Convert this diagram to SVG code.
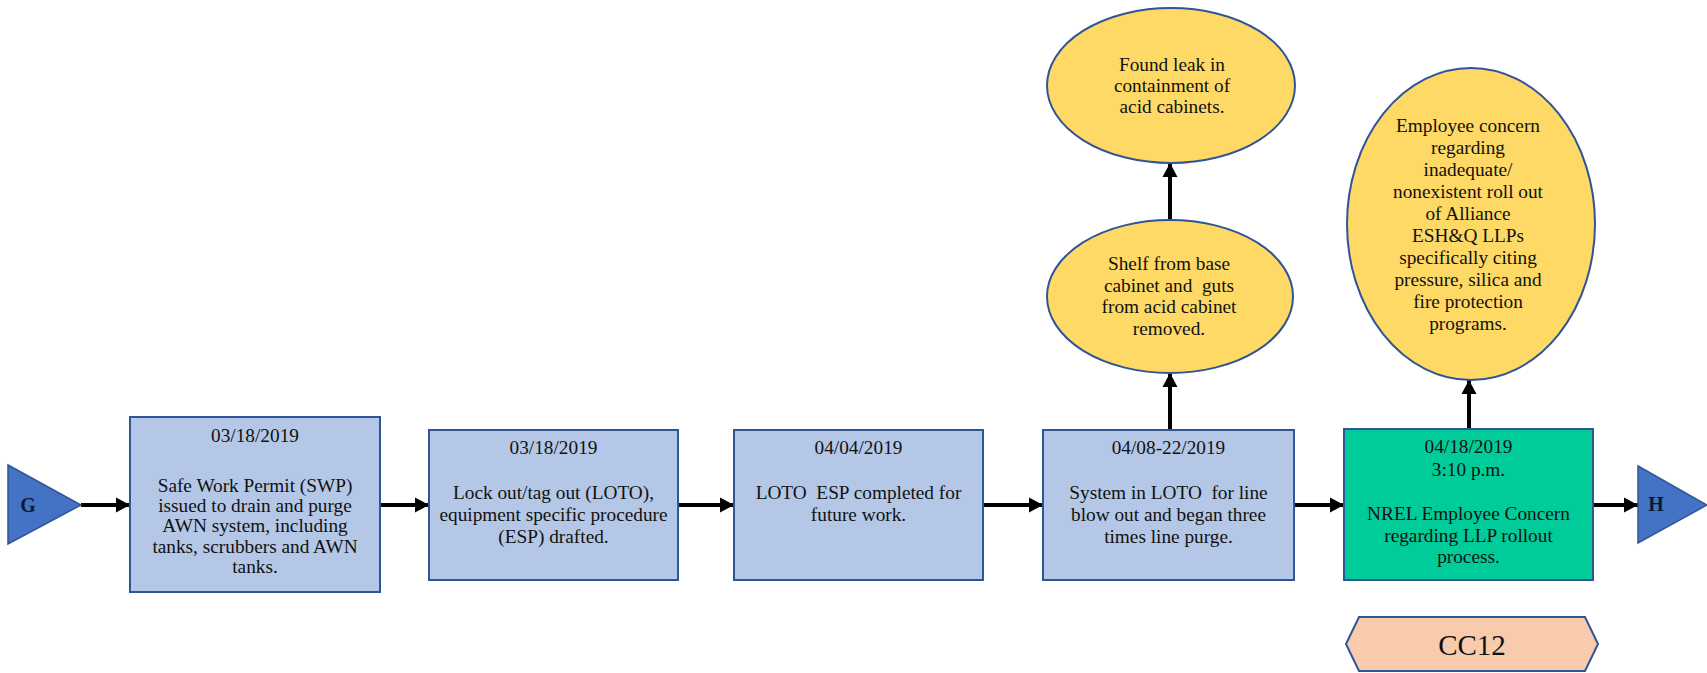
<svg xmlns="http://www.w3.org/2000/svg" width="1707" height="673" viewBox="0 0 1707 673">
  <defs>
    <marker id="arrow" markerUnits="userSpaceOnUse" markerWidth="15" markerHeight="17" refX="14" refY="8.5" orient="auto">
      <path d="M0,1 L14,8.5 L0,16 Z" fill="#000"/>
    </marker>
    <style>
      .box { fill: #B4C7E7; stroke: #2F5597; stroke-width: 2; }
      .event { fill: #00CC99; stroke: #2F5597; stroke-width: 2; }
      .oval { fill: #FFD966; stroke: #2F5597; stroke-width: 2; }
      .tag { fill: #F8CBAD; stroke: #2F5597; stroke-width: 2; }
      .tri { fill: #4472C4; stroke: #2F5597; stroke-width: 1.5; }
      .txt { font-family: "Liberation Serif", "Times New Roman", serif; font-size: 19.3px; fill: #111; text-anchor: middle; }
      .lbl { font-family: "Liberation Serif", "Times New Roman", serif; font-size: 20px; font-weight: bold; fill: #0b1a33; text-anchor: middle; }
      .big { font-family: "Liberation Serif", "Times New Roman", serif; font-size: 29px; fill: #111; text-anchor: middle; }
      .conn { stroke: #000; stroke-width: 4; fill: none; marker-end: url(#arrow); }
    </style>
  </defs>

  <rect width="1707" height="673" fill="#fff"/>

  <!-- connectors -->
  <g id="connectors">
    <line class="conn" x1="81" y1="505" x2="130" y2="505"/>
    <line class="conn" x1="380" y1="505" x2="429" y2="505"/>
    <line class="conn" x1="678" y1="505" x2="734" y2="505"/>
    <line class="conn" x1="983" y1="505" x2="1043" y2="505"/>
    <line class="conn" x1="1294" y1="505" x2="1344" y2="505"/>
    <line class="conn" x1="1593" y1="505" x2="1638" y2="505"/>
    <line class="conn" x1="1170" y1="430" x2="1170" y2="373"/>
    <line class="conn" x1="1170" y1="220" x2="1170" y2="163"/>
    <line class="conn" x1="1469" y1="429" x2="1469" y2="380"/>
  </g>

  <!-- entry point G -->
  <g id="node-g">
    <polygon class="tri" points="8,465 81,505 8,544"/>
    <text class="lbl" x="28" y="512">G</text>
  </g>

  <!-- exit point H -->
  <g id="node-h">
    <polygon class="tri" points="1638,466 1707,505 1638,543"/>
    <text class="lbl" x="1656" y="511">H</text>
  </g>

  <g id="node-swp">
    <rect class="box" x="130" y="417" width="250" height="175"/>
    <text class="txt" x="255" y="442">03/18/2019</text>
    <text class="txt" x="255" y="492">Safe Work Permit (SWP)</text>
    <text class="txt" x="255" y="512">issued to drain and purge</text>
    <text class="txt" x="255" y="532">AWN system, including</text>
    <text class="txt" x="255" y="553">tanks, scrubbers and AWN</text>
    <text class="txt" x="255" y="573">tanks.</text>
  </g>

  <g id="node-loto">
    <rect class="box" x="429" y="430" width="249" height="150"/>
    <text class="txt" x="553.5" y="454">03/18/2019</text>
    <text class="txt" x="553.5" y="499">Lock out/tag out (LOTO),</text>
    <text class="txt" x="553.5" y="521">equipment specific procedure</text>
    <text class="txt" x="553.5" y="543">(ESP) drafted.</text>
  </g>

  <g id="node-esp">
    <rect class="box" x="734" y="430" width="249" height="150"/>
    <text class="txt" x="858.5" y="454">04/04/2019</text>
    <text class="txt" x="858.5" y="499" xml:space="preserve">LOTO  ESP completed for</text>
    <text class="txt" x="858.5" y="521">future work.</text>
  </g>

  <g id="node-purge">
    <rect class="box" x="1043" y="430" width="251" height="150"/>
    <text class="txt" x="1168.5" y="454">04/08-22/2019</text>
    <text class="txt" x="1168.5" y="499" xml:space="preserve">System in LOTO  for line</text>
    <text class="txt" x="1168.5" y="521">blow out and began three</text>
    <text class="txt" x="1168.5" y="543">times line purge.</text>
  </g>

  <g id="node-concern">
    <rect class="event" x="1344" y="429" width="249" height="151"/>
    <text class="txt" x="1468.5" y="453">04/18/2019</text>
    <text class="txt" x="1468.5" y="476">3:10 p.m.</text>
    <text class="txt" x="1468.5" y="520">NREL Employee Concern</text>
    <text class="txt" x="1468.5" y="542">regarding LLP rollout</text>
    <text class="txt" x="1468.5" y="563">process.</text>
  </g>

  <g id="node-shelf">
    <ellipse class="oval" cx="1170" cy="296.5" rx="123" ry="76.5"/>
    <text class="txt" x="1169" y="270">Shelf from base</text>
    <text class="txt" x="1169" y="292" xml:space="preserve">cabinet and  guts</text>
    <text class="txt" x="1169" y="313">from acid cabinet</text>
    <text class="txt" x="1169" y="335">removed.</text>
  </g>

  <g id="node-leak">
    <ellipse class="oval" cx="1171" cy="85.5" rx="124" ry="77.5"/>
    <text class="txt" x="1172" y="71">Found leak in</text>
    <text class="txt" x="1172" y="92">containment of</text>
    <text class="txt" x="1172" y="113">acid cabinets.</text>
  </g>

  <g id="node-llp">
    <ellipse class="oval" cx="1471" cy="224" rx="124" ry="156"/>
    <text class="txt" x="1468" y="132">Employee concern</text>
    <text class="txt" x="1468" y="154">regarding</text>
    <text class="txt" x="1468" y="176">inadequate/</text>
    <text class="txt" x="1468" y="198">nonexistent roll out</text>
    <text class="txt" x="1468" y="220">of Alliance</text>
    <text class="txt" x="1468" y="242">ESH&amp;Q LLPs</text>
    <text class="txt" x="1468" y="264">specifically citing</text>
    <text class="txt" x="1468" y="286">pressure, silica and</text>
    <text class="txt" x="1468" y="308">fire protection</text>
    <text class="txt" x="1468" y="330">programs.</text>
  </g>

  <g id="node-cc12">
    <polygon class="tag" points="1346,644 1359,617 1585,617 1598,644 1585,671 1359,671"/>
    <text class="big" x="1472" y="655">CC12</text>
  </g>
</svg>
